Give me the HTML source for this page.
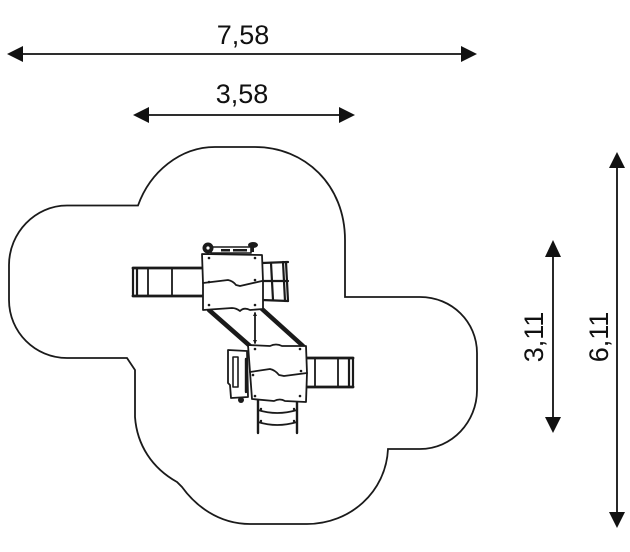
<!DOCTYPE html>
<html><head><meta charset="utf-8"><style>
html,body{margin:0;padding:0;background:#fff;}
svg{display:block;}
text{font-family:"Liberation Sans",Arial,sans-serif;font-size:27px;fill:#111;}
</style></head><body>
<svg width="630" height="552" viewBox="0 0 630 552" xmlns="http://www.w3.org/2000/svg">
<!-- dimension lines -->
<g stroke="#111" stroke-width="1.8" fill="none">
<line x1="20" y1="54" x2="464" y2="54"/>
<line x1="146" y1="115" x2="342" y2="115"/>
<line x1="617" y1="165" x2="617" y2="515"/>
<line x1="553" y1="253" x2="553" y2="420"/>
</g>
<g fill="#111">
<polygon points="7,54 23,46 23,62"/>
<polygon points="477,54 461,46 461,62"/>
<polygon points="133,115 149,107 149,123"/>
<polygon points="355,115 339,107 339,123"/>
<polygon points="617,152 609,168 625,168"/>
<polygon points="617,528 609,512 625,512"/>
<polygon points="553,240 545,257 561,257"/>
<polygon points="553,433 545,417 561,417"/>
</g>
<text x="243" y="44" text-anchor="middle">7,58</text>
<text x="242" y="103" text-anchor="middle">3,58</text>
<text transform="translate(608,337) rotate(-90)" text-anchor="middle">6,11</text>
<text transform="translate(543,337) rotate(-90)" text-anchor="middle">3,11</text>

<!-- outline -->
<path d="M67,205.5 L138,205.5 C150,172 180,147 215,147 L255,147 C305,147 345,185 345,240 L345,297 L420,297 C452,297 477,322 477,353 L477,390 C477,422 452,449 420,449 L388,449 C386,492 350,524 307,524 L250,524 C218,524 195,505 182,487 L177,482 C152,468 137,445 135,417 L135,370 L127,358 L67,358 C35,358 9,332 9,300 L9,265 C9,233 35,205.5 67,205.5 Z" fill="none" stroke="#1a1a1a" stroke-width="1.8"/>

<!-- structure -->
<g stroke="#1a1a1a" stroke-width="1.8" fill="none" stroke-linecap="round" stroke-linejoin="round">
<!-- upper-left ladder -->
<line x1="133" y1="268" x2="203" y2="268" stroke-width="2.8"/>
<line x1="133" y1="296" x2="203" y2="296" stroke-width="2.8"/>
<line x1="133" y1="268" x2="133" y2="296" stroke-width="2.2"/>
<line x1="137" y1="268" x2="137" y2="296" stroke-width="2.2"/>
<line x1="148" y1="268" x2="148" y2="296"/>
<line x1="172" y1="268" x2="172" y2="296"/>
<!-- upper-right small ladder -->
<line x1="262" y1="263" x2="288" y2="262" stroke-width="2.2"/>
<line x1="262" y1="281" x2="288" y2="281" stroke-width="2.2"/>
<line x1="262" y1="300" x2="288" y2="301" stroke-width="2.2"/>
<line x1="271" y1="263" x2="273" y2="300" stroke-width="2.2"/>
<line x1="283" y1="262" x2="285" y2="301" stroke-width="2.2"/>
<line x1="286" y1="262" x2="288" y2="301" stroke-width="2.2"/>
<!-- diagonal bands -->
<line x1="209" y1="310" x2="250" y2="346" stroke-width="4.5"/>
<line x1="262" y1="309" x2="303" y2="346" stroke-width="4.5"/>
<!-- pole -->
<line x1="255" y1="313" x2="255" y2="343"/>
<!-- right lower ladder -->
<line x1="306" y1="358" x2="353" y2="358" stroke-width="2.8"/>
<line x1="306" y1="387" x2="353" y2="387" stroke-width="2.8"/>
<line x1="315" y1="358" x2="315" y2="387"/>
<line x1="338" y1="358" x2="338" y2="387"/>
<line x1="349" y1="358" x2="349" y2="387" stroke-width="2.2"/>
<line x1="353" y1="358" x2="353" y2="387" stroke-width="2.2"/>
<!-- bottom ladder -->
<line x1="258" y1="400" x2="258" y2="433" stroke-width="2.4"/>
<line x1="297" y1="400" x2="297" y2="433" stroke-width="2.4"/>
<path d="M258,410 Q277,416 297,410"/>
<path d="M258,422 Q277,428 297,422"/>
<!-- upper platform -->
<path d="M202,254 L262,255 L263,281 L263,309 L250,310 Q244,307 240,311 Q236,308 232,308 L203,310 L203,283 Z" fill="#fff"/>
<path d="M203,283 L228,280 Q233,281 236,285 L240,286 L262,281"/>
<!-- lower platform -->
<path d="M248,345 L270,346 Q276,343 282,346 L306,346 L307,373 L306,402 L285,401 Q280,398 274,401 L252,399 L250,372 Z" fill="#fff"/>
<path d="M250,372 L270,369 Q275,370 279,375 L284,376 L307,373"/>
<!-- door panel -->
<path d="M228,350 L247,351 L248,397 L231,398 L230,385 L228,383 Z" fill="#fff"/>
<rect x="233" y="357" width="5" height="30" stroke-width="1.6"/>
<line x1="246" y1="359" x2="246" y2="392" stroke-width="2.4"/>
<!-- top deco -->
<rect x="211" y="247" width="40" height="6" fill="#fff" stroke-width="1.6"/>
</g>
<g fill="#1a1a1a">
<circle cx="208" cy="248" r="5.5"/>
<circle cx="208" cy="248" r="1.6" fill="#fff"/>
<ellipse cx="253" cy="245" rx="5" ry="3"/>
<rect x="251" y="245" width="3" height="7"/>
<rect x="221" y="249" width="9" height="2.5"/>
<rect x="233" y="249" width="14" height="2.5"/>
<circle cx="241" cy="400" r="3"/>
<!-- bolts -->
<circle cx="209" cy="258" r="1.3"/><circle cx="255" cy="258" r="1.3"/>
<circle cx="209" cy="282" r="1.3"/><circle cx="255" cy="280" r="1.3"/>
<circle cx="209" cy="305" r="1.3"/><circle cx="255" cy="305" r="1.3"/>
<circle cx="255" cy="349" r="1.3"/><circle cx="300" cy="349" r="1.3"/>
<circle cx="253" cy="375" r="1.3"/><circle cx="301" cy="371" r="1.3"/>
<circle cx="255" cy="396" r="1.3"/><circle cx="300" cy="396" r="1.3"/>
<circle cx="261" cy="409" r="1.2"/><circle cx="294" cy="409" r="1.2"/>
<circle cx="261" cy="421" r="1.2"/><circle cx="294" cy="421" r="1.2"/>
<polygon points="255,312 253,316 257,316"/>
<polygon points="255,344 253,340 257,340"/>
</g>
</svg>
</body></html>
